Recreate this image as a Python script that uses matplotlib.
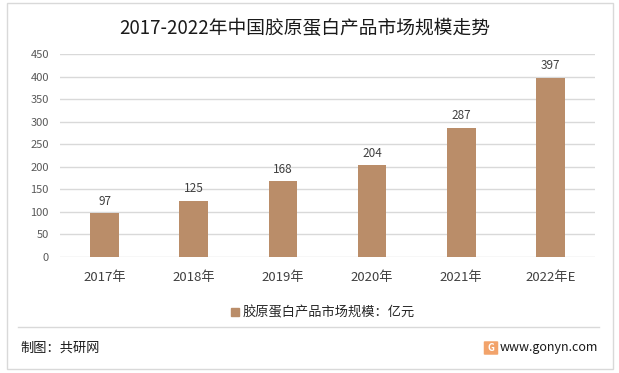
import matplotlib
matplotlib.use('Agg')
import matplotlib.pyplot as plt
from matplotlib.patches import Rectangle, FancyBboxPatch
from matplotlib.lines import Line2D

plt.rcParams['font.family'] = ['Noto Sans CJK SC', 'DejaVu Sans']

years = ['2017年', '2018年', '2019年', '2020年', '2021年', '2022年E']
values = [97, 125, 168, 204, 287, 397]
yticks = [0, 50, 100, 150, 200, 250, 300, 350, 400, 450]
bar_color = '#BA8D69'

W, H = 619, 373
fig = plt.figure(figsize=(W / 100, H / 100), dpi=100)

# outer frame and separator
fig.patches.append(Rectangle((7 / W, 1 - 369 / H), 606 / W, 366 / H, transform=fig.transFigure,
                             fill=False, edgecolor='#D9D9D9', linewidth=1))
fig.lines.append(Line2D([18 / W, 599 / W], [1 - 327 / H, 1 - 327 / H], transform=fig.transFigure,
                        color='#D9D9D9', linewidth=1))

ax = fig.add_axes([60 / W, 1 - 257 / H, 535 / W, 203 / H])
x = range(len(years))
ax.bar(x, values, width=0.32, color=bar_color, zorder=3)
for xi, v in zip(x, values):
    ax.text(xi, v + 12, str(v), ha='center', va='bottom', fontsize=8.5, color='#404040')

ax.set_xlim(-0.5, len(years) - 0.5)
ax.set_ylim(0, 450)
ax.set_yticks(yticks)
ax.set_yticklabels([str(t) for t in yticks], fontsize=8, color='#595959')
ax.set_xticks(list(x))
ax.set_xticklabels(years, fontsize=9.5, color='#404040')
ax.grid(axis='y', color='#D9D9D9', linewidth=1, zorder=0)
for s in ax.spines.values():
    s.set_visible(False)
ax.tick_params(length=0, pad=8)
ax.tick_params(axis='x', pad=10)

fig.text(305 / W, 1 - 28 / H, '2017-2022年中国胶原蛋白产品市场规模走势', ha='center', va='center',
         fontsize=13.5, color='#1a1a1a')

fig.legend(handles=[Rectangle((0, 0), 1, 1, color=bar_color)], labels=['胶原蛋白产品市场规模：亿元'],
           loc='center', bbox_to_anchor=(323 / W, 1 - 313 / H), frameon=False, fontsize=9.5,
           handlelength=0.6, handleheight=0.6, handletextpad=0.3, labelcolor='#262626')

fig.text(20 / W, 1 - 348 / H, '制图：共研网', ha='left', va='center', fontsize=9.5, color='#1a1a1a')
fig.patches.append(FancyBboxPatch((485 / W, 1 - 354 / H), 12 / W, 12 / H, boxstyle='round,pad=0.002',
                                  transform=fig.transFigure, facecolor='#F2A36B', edgecolor='none'))
fig.text(491 / W, 1 - 348 / H, 'G', ha='center', va='center', fontsize=7, color='white', weight='bold')
fig.text(500 / W, 1 - 348 / H, 'www.gonyn.com', ha='left', va='center', fontsize=9, color='#1a1a1a')

fig.savefig('out.png', dpi=100)
